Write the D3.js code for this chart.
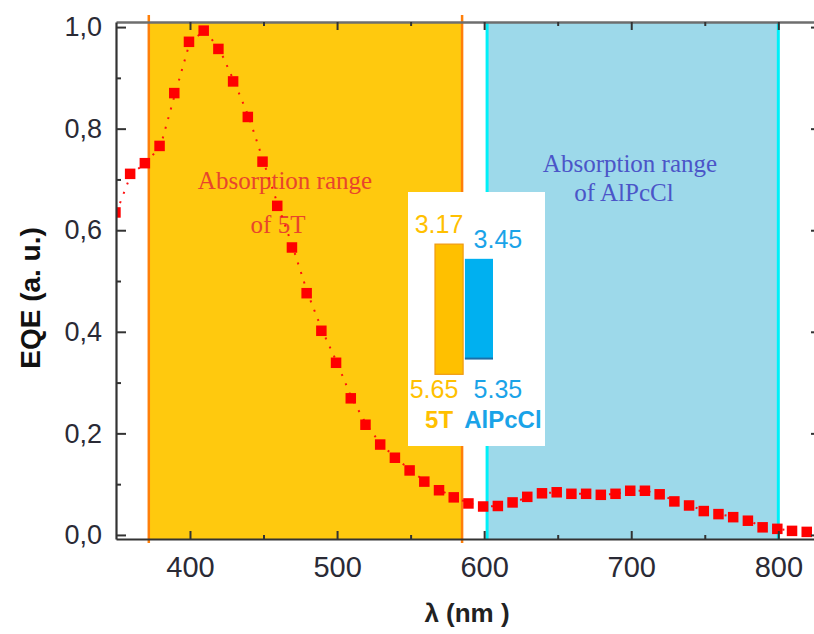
<!DOCTYPE html>
<html><head><meta charset="utf-8">
<script src="https://cdn.jsdelivr.net/npm/d3@7"></script>
<style>body{margin:0;background:#fff}svg{display:block}</style>
</head><body>
<svg id="c" width="814" height="634"></svg>
<script>
// ---- data ----
const wavelength = [350,360,370,380,390,400,410,420,430,440,450,460,470,480,490,500,510,520,530,540,550,560,570,580,590,600,610,620,630,640,650,660,670,680,690,700,710,720,730,740,750,760,770,780,790,800,810,820];
const eqe = [0.635,0.711,0.732,0.766,0.870,0.971,0.993,0.957,0.893,0.823,0.735,0.648,0.566,0.476,0.402,0.339,0.269,0.217,0.178,0.152,0.127,0.105,0.088,0.074,0.062,0.056,0.057,0.064,0.075,0.082,0.084,0.081,0.081,0.079,0.081,0.087,0.087,0.080,0.066,0.058,0.047,0.041,0.035,0.028,0.015,0.012,0.008,0.006];
const xTicks = [400,500,600,700,800];
const xMinorTicks = [450,550,650,750];
const yTicks = [0,0.2,0.4,0.6,0.8,1.0];
const yMinorTicks = [0.1,0.3,0.5,0.7,0.9];
const bandNames = ["5T","AlPcCl"];
const bandFrom = [372,602];
const bandTo = [585,800];
const materials = ["5T","AlPcCl"];
const lumo = [3.17,3.45];
const homo = [5.65,5.35];
const bandLabels = [["Absorption range","of 5T"],["Absorption range","of AlPcCl"]];

// ---- layout ----
const svg = d3.select("#c");
const L = 116, R = 817, T = 22, B = 539;
const x = d3.scaleLinear().domain([349.7, 826.3]).range([L, R]);
const y = d3.scaleLinear().domain([-0.008, 1.01]).range([B, T]);
const sans = "Arial, 'Liberation Sans', sans-serif";
const serif = "'Times New Roman', 'Liberation Serif', serif";

svg.append("defs").append("clipPath").attr("id","clip")
  .append("rect").attr("x",L).attr("y",T).attr("width",R-L).attr("height",B-T);

// bands
const bandFill = ["#FFC90E","#9DD9EA"];
const bandLine = ["#FF7F0A","#00F0F8"];
bandNames.forEach((n,i)=>{
  svg.append("rect").attr("x",x(bandFrom[i])).attr("y",T)
    .attr("width",x(bandTo[i])-x(bandFrom[i])).attr("height",B-T)
    .attr("fill",bandFill[i]);
});
bandNames.forEach((n,i)=>{
  const ext = i===0 ? 7 : 0;
  [bandFrom[i],bandTo[i]].forEach(v=>{
    svg.append("line").attr("x1",x(v)).attr("x2",x(v))
      .attr("y1",T-ext).attr("y2",B+(i===0?4:0))
      .attr("stroke",bandLine[i]).attr("stroke-width",i===0?2.5:3);
  });
});

// band annotations
const annColor = ["#E8452C","#4B55C8"];
const annPos = [[{cx:285,by:189},{cx:278,by:233}],[{cx:630,by:172},{cx:624,by:201}]];
bandLabels.forEach((lines,i)=>{
  lines.forEach((t,j)=>{
    svg.append("text").attr("x",annPos[i][j].cx).attr("y",annPos[i][j].by)
      .attr("text-anchor","middle").attr("font-family",serif).attr("font-size",25)
      .attr("fill",annColor[i]).text(t);
  });
});

// data
const pts = wavelength.map((w,i)=>({w, v:eqe[i]}));
const g = svg.append("g").attr("clip-path","url(#clip)");
g.append("path").datum(pts)
  .attr("d", d3.line().x(d=>x(d.w)).y(d=>y(d.v)))
  .attr("fill","none").attr("stroke","#FF1010").attr("stroke-width",2)
  .attr("stroke-dasharray","2,8");
const s = 10.5;
g.selectAll("rect.pt").data(pts).join("rect").attr("class","pt")
  .attr("x",d=>x(d.w)-s/2-1).attr("y",d=>y(d.v)-s/2)
  .attr("width",s).attr("height",s).attr("fill","#FF0000");

// inset energy diagram
svg.append("rect").attr("x",408).attr("y",192).attr("width",137).attr("height",254).attr("fill","#fff");
const yE = d3.scaleLinear().domain([3,6]).range([235.2,392.7]);
const xM = d3.scaleBand().domain(materials).range([435,493]).paddingInner(0.06);
const barFill = ["#FFC000","#00B0F0"];
const barStroke = ["#F09A10","#1A6FA8"];
const txtColor = ["#FFC000","#1AA3E8"];
const valShiftTop = [-10, 19];
const valShiftBot = [-15, 19];
const nameShift = [-10, 24];
materials.forEach((m,i)=>{
  const x0 = xM(m), w = xM.bandwidth();
  const c = x0 + w/2;
  svg.append("rect").attr("x",x0).attr("y",yE(lumo[i])).attr("width",w)
    .attr("height",yE(homo[i])-yE(lumo[i])).attr("fill",barFill[i])
    .attr("stroke",i===0?barStroke[0]:"none").attr("stroke-width",1.2);
  if(i===1){
    svg.append("line").attr("x1",x0).attr("x2",x0+w).attr("y1",yE(homo[i])).attr("y2",yE(homo[i]))
      .attr("stroke",barStroke[1]).attr("stroke-width",2);
  }
  svg.append("text").attr("x",c+valShiftTop[i]).attr("y",yE(lumo[i])-11).attr("text-anchor","middle")
    .attr("font-family",sans).attr("font-size",25).attr("fill",txtColor[i]).text(lumo[i].toFixed(2));
  svg.append("text").attr("x",c+valShiftBot[i]).attr("y",yE(d3.max(homo))+24).attr("text-anchor","middle")
    .attr("font-family",sans).attr("font-size",25).attr("fill",txtColor[i]).text(homo[i].toFixed(2));
  svg.append("text").attr("x",c+nameShift[i]).attr("y",yE(d3.max(homo))+54).attr("text-anchor","middle")
    .attr("font-family",sans).attr("font-size",24).attr("font-weight","bold")
    .attr("fill",txtColor[i]).text(m);
});

// axes
const axColor = "#333";
function styleAxis(sel, txtSize){
  sel.selectAll("path.domain").attr("stroke",axColor).attr("stroke-width",2.2);
  sel.selectAll(".tick line").attr("stroke",axColor).attr("stroke-width",2);
  sel.selectAll(".tick text").attr("font-family",sans).attr("font-size",txtSize).attr("fill","#2a2a35");
}
const xb = svg.append("g").attr("transform",`translate(0,${B})`)
  .call(d3.axisBottom(x).tickValues(xTicks).tickSizeInner(-8).tickSizeOuter(0).tickPadding(17).tickFormat(d3.format("d")));
styleAxis(xb, 29);
const xbm = svg.append("g").attr("transform",`translate(0,${B})`)
  .call(d3.axisBottom(x).tickValues(xMinorTicks).tickSizeInner(-4).tickSizeOuter(0).tickFormat(""));
styleAxis(xbm, 0); xbm.select("path.domain").remove();

const xt = svg.append("g").attr("transform",`translate(0,${T})`)
  .call(d3.axisTop(x).tickValues(xTicks).tickSizeInner(-8).tickSizeOuter(0).tickFormat(""));
styleAxis(xt, 0); xt.select("path.domain").attr("stroke","#6e6e6e").attr("stroke-width",2.5);
const xtm = svg.append("g").attr("transform",`translate(0,${T})`)
  .call(d3.axisTop(x).tickValues(xMinorTicks).tickSizeInner(-4).tickSizeOuter(0).tickFormat(""));
styleAxis(xtm, 0); xtm.select("path.domain").remove();

const fmtComma = d => d3.format(".1f")(d).replace(".", ",");
const yl = svg.append("g").attr("transform",`translate(${L},0)`)
  .call(d3.axisLeft(y).tickValues(yTicks).tickSizeInner(-10).tickSizeOuter(0).tickPadding(14).tickFormat(fmtComma));
styleAxis(yl, 27);
const ylm = svg.append("g").attr("transform",`translate(${L},0)`)
  .call(d3.axisLeft(y).tickValues(yMinorTicks).tickSizeInner(-5).tickSizeOuter(0).tickFormat(""));
styleAxis(ylm, 0); ylm.select("path.domain").remove();

const yr = svg.append("g").attr("transform",`translate(${R},0)`)
  .call(d3.axisRight(y).tickValues(yTicks).tickSizeInner(-6).tickSizeOuter(0).tickFormat(""));
styleAxis(yr, 0);

// axis titles
svg.append("text").attr("x",467).attr("y",622).attr("text-anchor","middle")
  .attr("font-family",sans).attr("font-size",26).attr("font-weight","bold").attr("fill","#222")
  .text("λ (nm )");
svg.append("text").attr("transform","translate(40,298) rotate(-90)").attr("text-anchor","middle")
  .attr("font-family",sans).attr("font-size",28).attr("font-weight","bold").attr("fill","#111")
  .text("EQE (a. u.)");
</script>
</body></html>
